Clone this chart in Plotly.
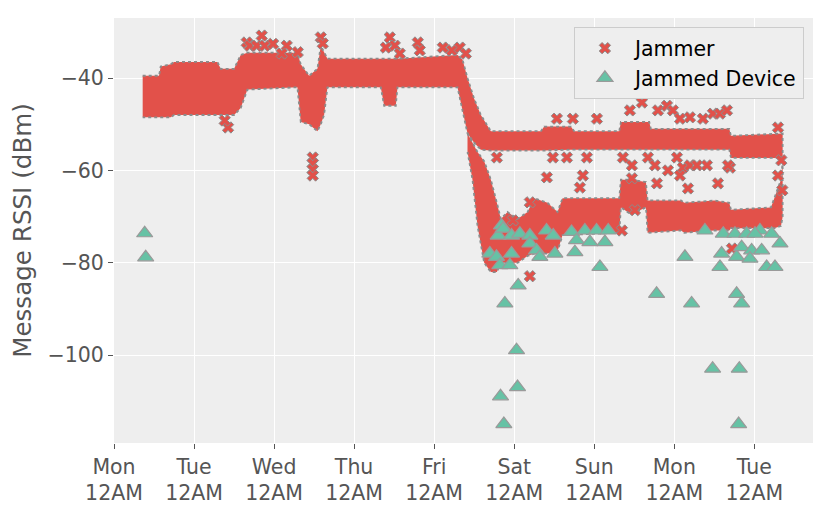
import plotly.graph_objects as go

# hours since Monday 12AM
day_ticks = [0, 24, 48, 72, 96, 120, 144, 168, 192]
day_labels = ["Mon<br>12AM", "Tue<br>12AM", "Wed<br>12AM", "Thu<br>12AM", "Fri<br>12AM",
              "Sat<br>12AM", "Sun<br>12AM", "Mon<br>12AM", "Tue<br>12AM"]

# jammer: dense band (top / bottom edge of the cloud)
upper_hours = [8.6, 13.5, 14, 17, 18, 31, 32, 36, 38, 40, 55, 56, 58.5, 61, 62, 63, 64, 80, 81,
               84.5, 85, 103, 104.5, 106, 108, 110, 113, 128, 129, 137, 138, 151.5, 152, 160.5,
               161, 184.5, 185, 200.5]
upper_top = [-39.5, -39.5, -37.5, -37, -36.5, -36.5, -38, -38, -35, -34.5, -34.5, -37, -39.5, -38,
             -33, -34.5, -35.8, -35.8, -35.8, -35.8, -35.8, -35, -36, -40, -44.5, -48, -51.5,
             -51.5, -50.5, -50.5, -51.5, -51.5, -49.5, -49.5, -51, -51, -52.5, -52]
upper_bottom = [-48.5, -48.5, -48.5, -48.5, -48, -48, -48, -48, -46.5, -42.5, -42, -49.5, -50,
                -51.5, -50, -48, -42, -42, -46, -46, -42, -42, -47, -52, -54, -55.5, -55.7,
                -55.7, -55.7, -55.5, -55.5, -55.5, -55.5, -55.5, -55.5, -55.5, -57.3, -57.3]

lower_hours = [106, 107.5, 109, 111, 113, 114.8, 116, 118, 121, 124, 126, 130, 133, 134.5, 151.5,
               152, 155, 159.5, 160, 170, 171, 180, 184.5, 185, 197, 198, 200, 200.5]
lower_top = [-52, -54, -56, -58, -62, -67, -70.5, -69, -70.5, -69, -66, -67, -69, -66, -66, -62,
             -62, -62.5, -66.5, -66.5, -67, -66.5, -67, -68.5, -68, -66, -62, -58]
lower_bottom = [-56, -62, -72, -80, -82, -82, -80, -80, -80, -78.5, -78, -78, -77.5, -74, -73.5,
                -68, -69.5, -68, -73.5, -73, -73.5, -73, -73, -72.5, -72.5, -72.5, -72, -70]

# jammer: scattered readings outside the dense band
jam_hours = [34.2, 33.2, 44.3, 39.8, 40.7, 42.8, 45.2, 47.7, 51.8, 55.1, 50.3,
             59.6, 59.6, 59.6, 59.6, 62.0, 62.6, 82.7, 84.2, 85.7, 81.5, 91.1, 91.7,
             98.6, 101.3, 103.7, 105.5,
             132.8, 137.6, 144.8, 154.7, 158.3, 163.1, 165.8, 167.6, 169.7, 172.7, 176.6,
             179.6, 181.7, 183.8, 199.1,
             114.8, 131.6, 135.8, 141.8, 152.6, 155.3, 160.1, 168.8, 170.6, 172.7, 174.8,
             177.8, 184.7, 129.8, 140.6, 139.7, 155.3, 162.8, 166.1, 169.7, 172.1, 181.1,
             162.2, 184.1, 199.1, 124.7, 156.2, 152.3, 124.7, 119.6, 185.3, 200.1, 200.4]
jam_rssi = [-50.7, -49.2, -30.8, -32.3, -33, -33, -33, -32.6, -33, -34.4, -34.7,
            -57.2, -58.5, -59.8, -61.1, -31.2, -32.5, -31.2, -33, -34.7, -33.4, -32.3, -34,
            -33.4, -34, -33.4, -34.7,
            -48.8, -48.8, -48.8, -47, -45.3, -47, -46, -47, -48.8, -48.5, -48.8,
            -47.7, -47.7, -47, -50.7,
            -57.2, -57.2, -57.2, -57.2, -57.2, -58.9, -57.2, -57.2, -59.4, -58.9, -58.9,
            -58.9, -59.4, -61.5, -61.1, -63.7, -61.7, -62.8, -60, -61.1, -63.9, -62.8,
            -58.9, -58.9, -61.1, -66.9, -68.6, -73, -82.9, -70.8, -76.9, -57.8, -64.3]

# jammed device
dev_hours = [9.2, 9.5, 112.7, 114.7, 115.7, 115.2, 116.2, 116.7, 118.7, 119.2, 119.2, 121.7,
             124.7, 124.7, 126.7, 127.7, 129.7, 131.7, 132.2, 137.2, 138.7, 138.2, 141.2, 142.7,
             144.7, 147.2, 148.2, 145.7, 121.2, 117.2, 120.7, 121.0, 115.9, 116.9,
             162.7, 171.2, 173.2, 177.2, 179.5, 182.2, 181.7, 182.7, 186.2, 186.7, 186.7, 188.2,
             187.5, 187.3, 188.2, 189.7, 191.2, 190.7, 193.7, 194.2, 195.7, 197.2, 198.2, 199.7,
             192.2]
dev_rssi = [-73.6, -78.8, -78.0, -78.7, -80.5, -74.1, -71.9, -72.6, -80.5, -78.0, -74.1, -73.7,
            -74.1, -75.8, -77.3, -78.7, -73.0, -74.1, -78.0, -73.3, -75.1, -77.7, -73.0, -75.5,
            -73.0, -75.5, -73.0, -80.9, -84.9, -88.8, -98.9, -106.9, -108.9, -114.9,
            -86.7, -78.7, -88.8, -73.0, -102.9, -78.0, -80.9, -73.7, -73.7, -78.7, -86.7, -88.8,
            -102.9, -114.9, -76.6, -73.7, -77.3, -79.1, -73.0, -77.3, -80.9, -73.7, -80.9, -75.8,
            -73.7]

red = "#e2514a"
green = "#66c2a5"

fig = go.Figure()

# dense part of the jammer cloud as filled bands
for hrs, top, bot in [(upper_hours, upper_top, upper_bottom),
                      (lower_hours, lower_top, lower_bottom)]:
    fig.add_trace(go.Scatter(
        x=hrs + hrs[::-1], y=top + bot[::-1],
        fill="toself", fillcolor=red, mode="lines",
        line=dict(color="#8c8c8c", width=1.8, dash="dot"),
        hoverinfo="skip", showlegend=False))

fig.add_trace(go.Scatter(
    x=jam_hours, y=jam_rssi, mode="markers", name="Jammer",
    marker=dict(symbol="x", size=10, color=red, line=dict(color="#8c8c8c", width=1))))

fig.add_trace(go.Scatter(
    x=dev_hours, y=dev_rssi, mode="markers", name="Jammed Device",
    marker=dict(symbol="triangle-up", size=14, color=green, line=dict(color="#9a9a9a", width=1.2))))

# page body has an 8px margin, so the figure is a bit smaller than the window
fig.update_layout(
    width=823, height=504,
    margin=dict(l=106, r=18, t=10, b=69),
    paper_bgcolor="white", plot_bgcolor="#eeeeee",
    font=dict(family="DejaVu Sans", size=20.5, color="#555555"),
    showlegend=True,
    legend=dict(x=0.987, y=0.978, xanchor="right", yanchor="top",
                bgcolor="#eeeeee", bordercolor="#cccccc", borderwidth=1,
                font=dict(color="black", size=20.5), itemwidth=50,
                tracegroupgap=0),
    xaxis=dict(range=[0, 209.6], tickvals=day_ticks, ticktext=day_labels, automargin=False,
               showgrid=True, gridcolor="white", gridwidth=1.4, zeroline=False,
               ticks="outside", ticklen=5, tickcolor="#555555", showline=False),
    yaxis=dict(range=[-119, -27], tick0=0, dtick=20, automargin=False,
               showgrid=True, gridcolor="white", gridwidth=1.4, zeroline=False,
               ticks="outside", ticklen=5, tickcolor="#555555", showline=False,
               title=dict(text="Message RSSI (dBm)", font=dict(size=24.6, color="#555555"),
                          standoff=10)),
)

fig.write_html("out.html")
